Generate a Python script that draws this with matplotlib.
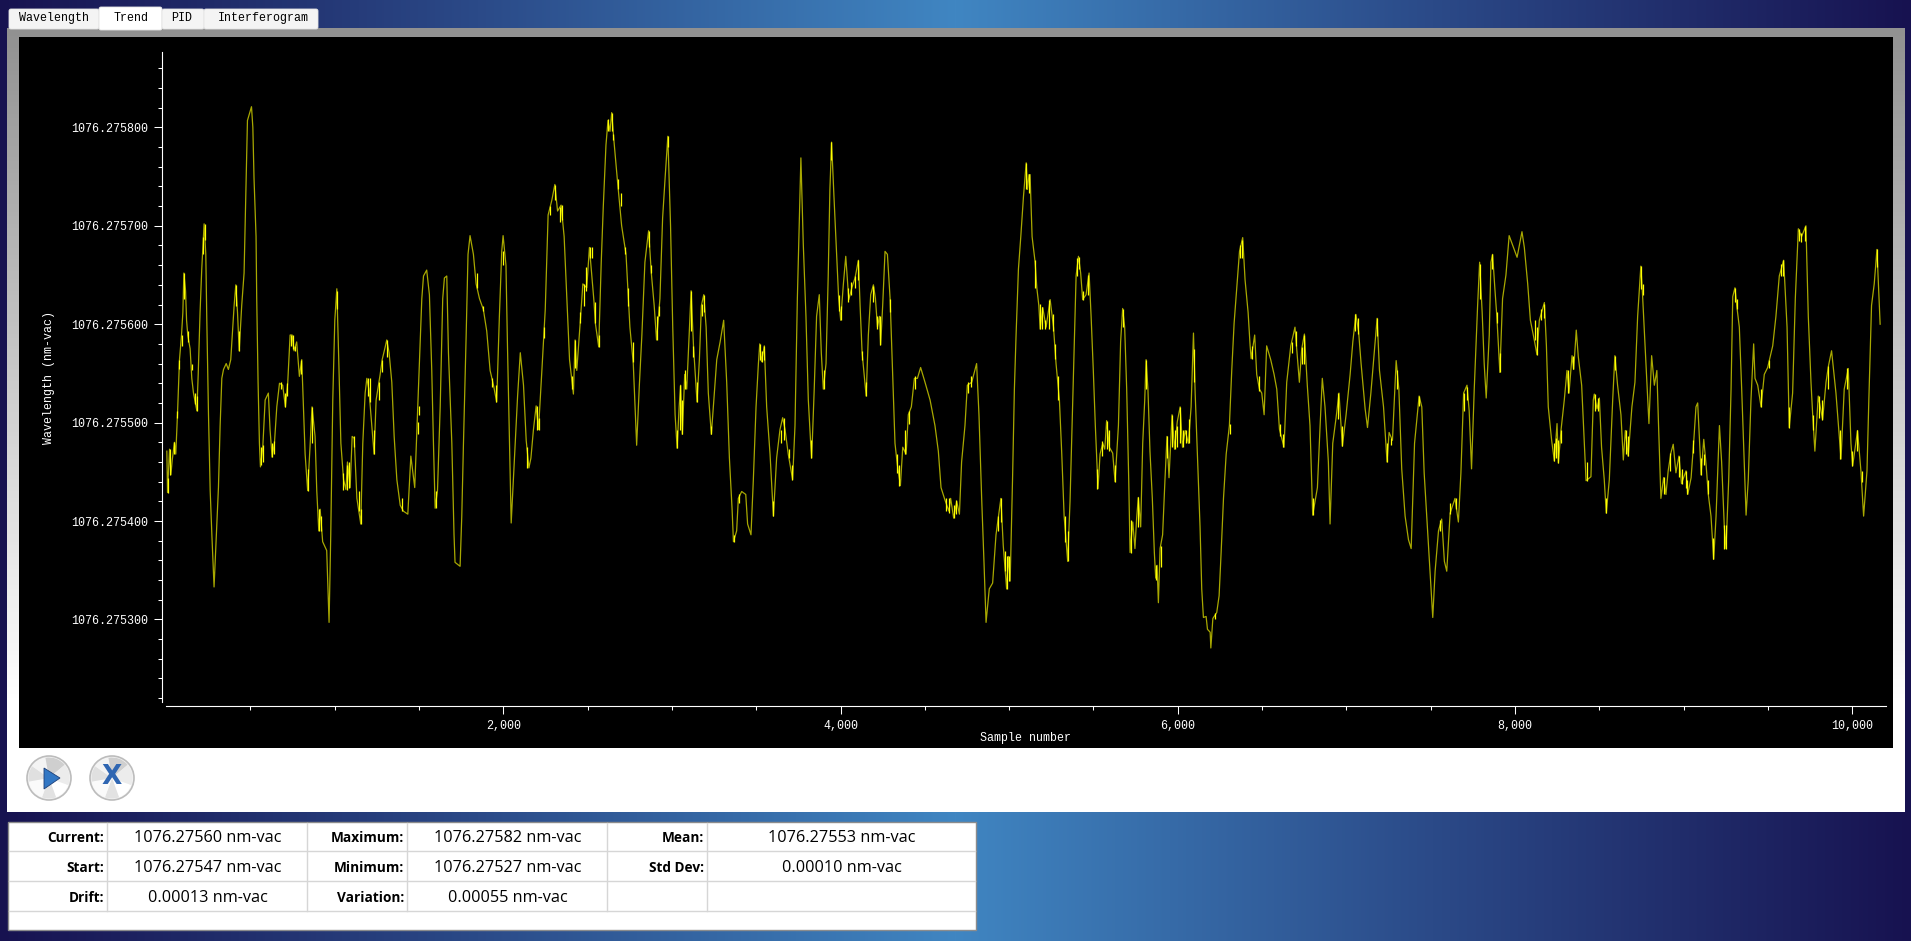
import numpy as np
import matplotlib
matplotlib.use('Agg')
import matplotlib.pyplot as plt
from matplotlib.patches import Circle, Polygon, Rectangle, Wedge, FancyBboxPatch

# samples and wavelength, wavelength as 1e-6 nm above 1076.275
sample_number = [
    5, 9, 21, 29, 37, 50, 58, 68, 80, 92,
    100, 106, 116, 122, 129, 143, 153, 163, 183, 191,
    202, 212, 226, 236, 242, 252, 262, 272, 285, 297,
    311, 321, 331, 341, 357, 370, 384, 396, 404, 414,
    424, 434, 449, 463, 475, 483, 507, 515, 522, 534,
    538, 546, 554, 560, 574, 588, 607, 617, 629, 643,
    657, 673, 692, 708, 722, 736, 748, 759, 775, 791,
    805, 815, 825, 840, 854, 866, 884, 894, 906, 914,
    929, 953, 967, 977, 989, 1001, 1013, 1025, 1037, 1053,
    1067, 1076, 1092, 1104, 1116, 1132, 1155, 1167, 1181, 1191,
    1203, 1215, 1234, 1246, 1270, 1282, 1300, 1309, 1323, 1339,
    1353, 1369, 1389, 1408, 1434, 1452, 1475, 1491, 1517, 1527,
    1546, 1562, 1576, 1586, 1596, 1610, 1626, 1641, 1651, 1665,
    1675, 1695, 1708, 1714, 1744, 1754, 1764, 1780, 1791, 1803,
    1823, 1839, 1859, 1882, 1902, 1922, 1942, 1961, 1977, 1991,
    1999, 2016, 2025, 2037, 2047, 2065, 2085, 2101, 2120, 2136,
    2152, 2164, 2179, 2195, 2209, 2229, 2249, 2266, 2288, 2306,
    2322, 2343, 2361, 2377, 2393, 2416, 2426, 2436, 2456, 2472,
    2495, 2511, 2538, 2546, 2566, 2581, 2593, 2609, 2621, 2633,
    2643, 2656, 2676, 2702, 2728, 2751, 2771, 2791, 2807, 2822,
    2840, 2850, 2862, 2878, 2895, 2909, 2929, 2945, 2961, 2976,
    2992, 3005, 3019, 3031, 3043, 3052, 3062, 3076, 3088, 3102,
    3114, 3128, 3149, 3163, 3175, 3189, 3203, 3216, 3234, 3246,
    3266, 3286, 3307, 3325, 3341, 3357, 3365, 3384, 3394, 3414,
    3438, 3449, 3469, 3483, 3499, 3513, 3521, 3532, 3548, 3562,
    3582, 3602, 3621, 3641, 3657, 3671, 3690, 3716, 3730, 3744,
    3756, 3765, 3779, 3795, 3809, 3823, 3829, 3844, 3858, 3874,
    3886, 3898, 3914, 3927, 3937, 3947, 3961, 3977, 3989, 4001,
    4017, 4031, 4049, 4067, 4086, 4106, 4116, 4128, 4152, 4165,
    4179, 4195, 4207, 4219, 4231, 4238, 4250, 4264, 4278, 4294,
    4310, 4323, 4337, 4355, 4369, 4389, 4402, 4420, 4438, 4456,
    4475, 4501, 4531, 4560, 4580, 4596, 4620, 4643, 4653, 4671,
    4689, 4705, 4718, 4738, 4752, 4778, 4807, 4821, 4837, 4851,
    4863, 4882, 4902, 4922, 4951, 4965, 4985, 4995, 5006, 5020,
    5031, 5041, 5055, 5069, 5085, 5101, 5108, 5118, 5124, 5136,
    5154, 5164, 5176, 5184, 5199, 5219, 5243, 5263, 5278, 5298,
    5312, 5326, 5347, 5361, 5373, 5385, 5397, 5411, 5424, 5436,
    5456, 5474, 5486, 5499, 5511, 5527, 5539, 5555, 5567, 5578,
    5594, 5614, 5628, 5648, 5661, 5673, 5685, 5697, 5709, 5717,
    5733, 5746, 5756, 5766, 5780, 5792, 5804, 5812, 5823, 5835,
    5849, 5861, 5869, 5877, 5885, 5895, 5910, 5924, 5936, 5948,
    5966, 5981, 5997, 6014, 6028, 6044, 6063, 6079, 6093, 6103,
    6117, 6132, 6142, 6152, 6168, 6176, 6192, 6196, 6208, 6231,
    6245, 6257, 6271, 6287, 6306, 6320, 6334, 6350, 6366, 6385,
    6399, 6417, 6429, 6435, 6456, 6468, 6484, 6498, 6512, 6527,
    6551, 6571, 6587, 6603, 6630, 6646, 6670, 6695, 6721, 6735,
    6751, 6768, 6784, 6800, 6828, 6844, 6857, 6873, 6893, 6903,
    6919, 6938, 6956, 6976, 6998, 7022, 7038, 7056, 7072, 7087,
    7111, 7125, 7145, 7165, 7182, 7196, 7220, 7241, 7253, 7273,
    7295, 7311, 7328, 7348, 7368, 7384, 7404, 7431, 7447, 7461,
    7480, 7496, 7512, 7526, 7546, 7565, 7581, 7595, 7615, 7644,
    7664, 7679, 7695, 7715, 7728, 7742, 7758, 7778, 7790, 7805,
    7817, 7829, 7847, 7857, 7867, 7880, 7892, 7910, 7926, 7946,
    7965, 8012, 8041, 8055, 8075, 8091, 8114, 8130, 8144, 8174,
    8186, 8197, 8217, 8233, 8249, 8257, 8273, 8292, 8308, 8320,
    8338, 8348, 8363, 8375, 8395, 8411, 8421, 8450, 8464, 8470,
    8486, 8500, 8513, 8529, 8541, 8559, 8579, 8592, 8608, 8628,
    8642, 8654, 8671, 8693, 8711, 8727, 8746, 8756, 8776, 8794,
    8810, 8826, 8841, 8851, 8865, 8881, 8895, 8908, 8924, 8938,
    8954, 8972, 8987, 9014, 9024, 9044, 9060, 9073, 9083, 9099,
    9103, 9119, 9133, 9146, 9162, 9178, 9192, 9212, 9225, 9241,
    9251, 9267, 9281, 9291, 9304, 9316, 9330, 9344, 9360, 9370,
    9383, 9399, 9415, 9423, 9439, 9459, 9478, 9498, 9528, 9547,
    9567, 9593, 9613, 9626, 9646, 9662, 9680, 9699, 9725, 9739,
    9755, 9765, 9778, 9798, 9824, 9844, 9859, 9877, 9903, 9933,
    9952, 9976, 9992, 10002, 10031, 10051, 10067, 10087, 10098, 10114,
    10130, 10146, 10165,
]
wavelength_offset = [
    471, 429, 473, 447, 462, 480, 468, 508, 564, 589,
    612, 652, 634, 604, 589, 575, 545, 530, 512, 549,
    612, 656, 702, 671, 604, 508, 431, 386, 333, 379,
    434, 497, 545, 554, 560, 554, 564, 597, 619, 640,
    612, 573, 619, 652, 748, 807, 821, 800, 748, 689,
    626, 541, 479, 455, 475, 523, 530, 493, 465, 479,
    516, 540, 538, 516, 541, 589, 589, 573, 582, 547,
    564, 516, 468, 431, 475, 516, 486, 431, 390, 412,
    379, 370, 297, 386, 523, 604, 636, 560, 479, 442,
    432, 460, 434, 486, 484, 423, 397, 479, 530, 545,
    534, 508, 468, 523, 549, 564, 577, 584, 571, 541,
    486, 442, 416, 410, 407, 466, 434, 508, 626, 649,
    655, 630, 553, 479, 413, 431, 516, 626, 647, 649,
    571, 479, 386, 358, 354, 405, 479, 589, 671, 690,
    671, 641, 626, 615, 593, 553, 538, 521, 608, 674,
    690, 660, 578, 479, 398, 460, 527, 571, 538, 482,
    454, 464, 493, 517, 493, 553, 615, 711, 726, 742,
    715, 721, 689, 626, 564, 529, 584, 553, 601, 641,
    637, 678, 623, 601, 577, 663, 719, 782, 807, 796,
    815, 787, 748, 700, 671, 597, 560, 477, 538, 589,
    663, 678, 695, 652, 619, 584, 626, 708, 752, 791,
    700, 597, 508, 474, 516, 538, 488, 549, 534, 589,
    634, 578, 521, 564, 619, 630, 597, 530, 488, 516,
    564, 582, 604, 541, 464, 412, 379, 390, 423, 430,
    427, 397, 386, 442, 516, 560, 580, 562, 578, 516,
    468, 405, 464, 493, 505, 493, 468, 442, 497, 626,
    708, 769, 682, 608, 523, 479, 464, 534, 608, 630,
    571, 534, 560, 649, 737, 785, 730, 671, 626, 604,
    641, 669, 625, 637, 647, 665, 619, 571, 527, 589,
    630, 640, 626, 597, 608, 579, 619, 674, 671, 626,
    545, 479, 457, 436, 475, 468, 508, 516, 545, 545,
    556, 541, 523, 497, 471, 434, 421, 410, 423, 403,
    420, 407, 460, 497, 538, 541, 560, 508, 423, 357,
    297, 331, 337, 386, 423, 375, 331, 364, 339, 442,
    534, 589, 656, 689, 730, 764, 737, 752, 752, 689,
    663, 637, 619, 595, 617, 597, 625, 597, 560, 523,
    468, 405, 359, 420, 497, 571, 649, 669, 652, 625,
    630, 652, 608, 553, 497, 433, 468, 479, 473, 502,
    475, 469, 440, 497, 582, 616, 597, 534, 442, 368,
    399, 372, 403, 424, 394, 479, 523, 564, 534, 471,
    423, 368, 342, 355, 317, 372, 386, 442, 486, 444,
    508, 473, 501, 516, 475, 492, 479, 516, 591, 530,
    464, 394, 331, 302, 303, 290, 287, 271, 301, 307,
    324, 368, 423, 468, 497, 553, 601, 637, 674, 688,
    645, 612, 578, 565, 589, 549, 534, 530, 508, 578,
    564, 549, 534, 493, 475, 541, 578, 597, 541, 575,
    590, 538, 497, 406, 434, 497, 545, 516, 460, 397,
    479, 504, 530, 476, 508, 549, 582, 610, 593, 560,
    514, 495, 530, 571, 606, 553, 516, 460, 490, 482,
    563, 534, 453, 405, 381, 372, 479, 527, 516, 449,
    394, 349, 302, 349, 390, 402, 359, 349, 408, 423,
    399, 449, 530, 538, 512, 453, 534, 619, 663, 612,
    560, 525, 589, 663, 671, 637, 608, 551, 626, 650,
    690, 668, 694, 678, 641, 604, 584, 569, 604, 622,
    578, 516, 482, 461, 499, 459, 493, 523, 553, 530,
    568, 554, 594, 567, 538, 479, 441, 445, 523, 529,
    514, 525, 475, 442, 408, 442, 523, 568, 538, 508,
    462, 492, 466, 516, 541, 608, 659, 630, 560, 499,
    568, 538, 553, 497, 423, 444, 427, 451, 469, 478,
    449, 466, 438, 451, 427, 444, 482, 516, 520, 464,
    447, 483, 457, 427, 405, 361, 405, 497, 460, 394,
    372, 442, 534, 628, 637, 617, 597, 534, 457, 406,
    442, 523, 580, 545, 538, 516, 549, 556, 578, 608,
    649, 665, 597, 495, 530, 626, 697, 689, 700, 608,
    541, 508, 471, 527, 503, 541, 558, 573, 530, 463,
    534, 555, 479, 456, 492, 451, 405, 451, 523, 619,
    641, 676, 600,
]
# noisy stretches where the trace piles up into bright yellow
burst_sample = [
    9, 25, 50, 68, 80, 92, 106, 131, 153, 170, 181, 221, 229, 417, 434, 564, 574, 629, 639, 684,
    708, 720, 739, 751, 763, 798, 840, 866, 909, 919, 1012, 1052, 1072, 1088, 1112, 1143, 1155, 1197, 1212, 1234,
    1263, 1283, 1309, 1402, 1492, 1503, 1603, 1845, 1877, 1932, 1957, 2000, 2143, 2198, 2212, 2242, 2278, 2308, 2334, 2348,
    2407, 2427, 2456, 2476, 2492, 2514, 2526, 2546, 2566, 2623, 2643, 2653, 2682, 2696, 2724, 2741, 2767, 2862, 2876, 2913,
    2925, 2976, 3028, 3051, 3061, 3079, 3113, 3128, 3148, 3178, 3190, 3233, 3367, 3395, 3521, 3533, 3547, 3600, 3646, 3664,
    3695, 3715, 3826, 3901, 3946, 3992, 4002, 4047, 4065, 4084, 4104, 4130, 4150, 4193, 4219, 4233, 4296, 4335, 4347, 4383,
    4406, 4440, 4628, 4643, 4671, 4687, 4756, 4776, 4934, 4953, 4973, 4987, 4999, 5099, 5120, 5156, 5180, 5195, 5213, 5239,
    5259, 5274, 5292, 5332, 5347, 5401, 5417, 5440, 5470, 5523, 5549, 5578, 5594, 5628, 5673, 5721, 5766, 5812, 5869, 5899,
    5938, 5966, 5983, 5997, 6013, 6033, 6047, 6066, 6094, 6220, 6309, 6368, 6382, 6438, 6479, 6605, 6625, 6675, 6700, 6734,
    6748, 6803, 6951, 6975, 7050, 7066, 7180, 7241, 7267, 7297, 7429, 7557, 7616, 7648, 7696, 7715, 7790, 7865, 7892, 7912,
    8117, 8129, 8153, 8169, 8232, 8242, 8256, 8272, 8315, 8341, 8425, 8473, 8493, 8542, 8592, 8657, 8672, 8746, 8757, 8884,
    8919, 8973, 8992, 9012, 9022, 9058, 9101, 9121, 9144, 9176, 9239, 9249, 9303, 9318, 9457, 9506, 9579, 9591, 9626, 9684,
    9697, 9719, 9768, 9802, 9822, 9855, 9927, 9966, 10000, 10029, 10059, 10144,
]
burst_high = [
    444, 473, 480, 512, 564, 589, 652, 593, 560, 530, 527, 689, 702, 640, 593, 475, 477, 479, 481, 541,
    530, 540, 589, 589, 578, 564, 453, 516, 412, 405, 634, 449, 457, 460, 486, 431, 412, 545, 545, 493,
    541, 564, 584, 423, 501, 517, 431, 652, 619, 545, 538, 674, 475, 517, 505, 597, 720, 741, 719, 721,
    547, 584, 612, 641, 658, 678, 678, 623, 589, 809, 815, 793, 748, 733, 678, 637, 582, 695, 660, 608,
    619, 791, 492, 538, 523, 553, 634, 578, 541, 621, 630, 497, 386, 427, 580, 573, 578, 420, 493, 505,
    473, 457, 482, 553, 785, 630, 619, 637, 643, 649, 665, 573, 541, 639, 608, 608, 626, 468, 457, 492,
    512, 547, 423, 423, 416, 421, 541, 547, 405, 423, 370, 364, 364, 764, 753, 665, 621, 617, 604, 625,
    610, 580, 547, 405, 390, 667, 668, 634, 650, 453, 481, 502, 493, 457, 615, 401, 424, 564, 355, 375,
    486, 508, 493, 497, 516, 492, 492, 504, 575, 307, 499, 680, 686, 578, 547, 499, 488, 582, 593, 577,
    589, 423, 530, 497, 610, 606, 606, 479, 484, 553, 527, 401, 418, 423, 530, 536, 661, 671, 612, 571,
    604, 597, 615, 621, 479, 484, 482, 493, 553, 568, 460, 529, 525, 423, 568, 493, 486, 659, 641, 445,
    469, 466, 453, 451, 442, 482, 464, 468, 442, 383, 396, 396, 637, 626, 534, 564, 661, 665, 516, 697,
    693, 700, 508, 527, 523, 558, 493, 556, 471, 492, 451, 676,
]
burst_low = [
    428, 447, 468, 505, 554, 578, 626, 582, 553, 519, 512, 671, 686, 619, 573, 457, 460, 465, 468, 534,
    516, 527, 578, 575, 573, 549, 431, 479, 390, 390, 615, 432, 432, 434, 475, 410, 397, 527, 521, 468,
    523, 551, 567, 410, 488, 508, 413, 637, 613, 536, 521, 660, 454, 493, 493, 586, 711, 726, 704, 706,
    534, 556, 601, 619, 634, 667, 667, 601, 577, 796, 796, 787, 737, 720, 671, 619, 562, 678, 652, 584,
    608, 780, 474, 493, 488, 534, 593, 567, 521, 608, 612, 488, 379, 418, 564, 562, 564, 405, 479, 482,
    464, 442, 464, 534, 767, 613, 604, 623, 630, 637, 645, 564, 527, 623, 595, 579, 612, 449, 436, 468,
    499, 534, 410, 408, 403, 407, 530, 536, 390, 399, 349, 331, 339, 737, 733, 637, 595, 595, 595, 595,
    593, 565, 523, 379, 359, 649, 656, 625, 630, 433, 466, 473, 471, 440, 597, 368, 394, 534, 340, 353,
    464, 475, 473, 475, 479, 475, 479, 479, 541, 300, 488, 667, 667, 565, 532, 486, 475, 571, 578, 560,
    560, 406, 504, 476, 593, 590, 588, 460, 477, 534, 517, 390, 407, 412, 512, 523, 626, 656, 601, 551,
    584, 569, 604, 606, 461, 464, 459, 479, 530, 554, 441, 512, 512, 408, 553, 468, 466, 636, 630, 427,
    451, 445, 438, 434, 427, 469, 447, 457, 427, 361, 372, 372, 623, 615, 516, 556, 649, 649, 495, 685,
    684, 685, 493, 505, 503, 534, 463, 534, 456, 471, 440, 658,
]
wavelength_base = 1076.275
major_x_ticks = [2000, 4000, 6000, 8000, 10000]
x_tick_labels = ['2,000', '4,000', '6,000', '8,000', '10,000']
major_y_ticks = [300, 400, 500, 600, 700, 800]
y_tick_labels = ['1076.275300', '1076.275400', '1076.275500', '1076.275600', '1076.275700', '1076.275800']
tab_names = ['Wavelength', 'Trend', 'PID', 'Interferogram']
stat_labels = [['Current:', 'Maximum:', 'Mean:'], ['Start:', 'Minimum:', 'Std Dev:'], ['Drift:', 'Variation:', '']]
stat_values = [['1076.27560 nm-vac', '1076.27582 nm-vac', '1076.27553 nm-vac'],
               ['1076.27547 nm-vac', '1076.27527 nm-vac', '0.00010 nm-vac'],
               ['0.00013 nm-vac', '0.00055 nm-vac', '']]

W, H = 1911, 941
MONO = 'Liberation Mono'
UI = 'Open Sans'
plt.rcParams['font.family'] = [MONO, 'DejaVu Sans']
plt.rcParams['font.size'] = 8.4
fig = plt.figure(figsize=(W / 100, H / 100), dpi=100)

# window chrome, drawn in pixel coordinates
bg = fig.add_axes([0, 0, 1, 1])
bg.axis('off')

stops_x = [0, 0.25, 0.5, 0.75, 1]
stops_r = [0x17, 0x2b, 0x40, 0x2b, 0x17]
stops_g = [0x12, 0x4a, 0x86, 0x4a, 0x12]
stops_b = [0x50, 0x88, 0xc2, 0x88, 0x50]
t = np.linspace(0, 1, W)
grad = np.dstack([np.interp(t, stops_x, stops_r), np.interp(t, stops_x, stops_g), np.interp(t, stops_x, stops_b)]) / 255
bg.imshow(grad, extent=[0, W, H, 0], aspect='auto', zorder=0)

# grey to white panel
v = np.interp(np.linspace(28, 812, 200), [28, 700, 812], [0.57, 1, 1])[:, None]
bg.imshow(np.dstack([v, v, v]), extent=[7, 1905, 812, 28], aspect='auto', zorder=1)
bg.set_xlim(0, W)
bg.set_ylim(H, 0)
bg.add_patch(Rectangle((19, 37), 1874, 711, fc='black', ec='none', zorder=2))

# tabs
tab_left = [9, 99, 162, 204]
tab_right = [99, 162, 204, 318]
tab_top = [9, 7, 9, 9]
tab_bottom = [27, 28, 27, 27]
tab_text_x = [54, 131, 182, 263]
for i, name in enumerate(tab_names):
    face = 'white' if name == 'Trend' else '#f4f4f4'
    bg.add_patch(FancyBboxPatch((tab_left[i] + 1, tab_top[i] + 1), tab_right[i] - tab_left[i] - 2, tab_bottom[i] - tab_top[i],
                                boxstyle='round,pad=1,rounding_size=2', fc=face, ec='#e4e4e4', lw=0.6, zorder=3))
    bg.text(tab_text_x[i], (tab_top[i] + tab_bottom[i]) / 2, name, color='black', ha='center', va='center', zorder=4)

# play and stop buttons
for cx in [49, 112]:
    bg.add_patch(Circle((cx, 778), 22, fc='#f4f4f4', ec='#bcbcbc', lw=1.2, zorder=3))
    for a, b, c in [(20, 70, '#ffffff'), (70, 110, '#e2e2e2'), (110, 170, '#fafafa'), (170, 215, '#e0e0e0'),
                    (215, 260, '#f4f4f4'), (260, 320, '#cfcfcf'), (320, 380, '#ececec')]:
        bg.add_patch(Wedge((cx, 778), 20.5, a, b, fc=c, ec='none', zorder=3))
bg.add_patch(Polygon([(44, 768), (44, 789), (60, 778)], closed=True, fc='#3277c4', ec='#1d3f78', lw=0.6, zorder=4))
bg.text(112, 777.5, 'X', family='DejaVu Sans', fontweight='bold', fontsize=19, color='#2f66b2', ha='center', va='center', zorder=4)

# statistics table
bg.add_patch(Rectangle((8, 822), 968, 108, fc='white', ec='#8c8c8c', lw=1, zorder=2))
for y in [851, 881, 911]:
    bg.plot([9, 975], [y, y], color='#d6d6d6', lw=1, zorder=3)
for x in [107, 307, 407, 607, 707]:
    bg.plot([x, x], [823, 911], color='#d6d6d6', lw=1, zorder=3)
label_right = [104, 404, 704]
value_center = [207.5, 507.5, 841.5]
row_center = [838, 868, 898]
for r in range(3):
    for c in range(3):
        bg.text(label_right[c], row_center[r] - 0.5, stat_labels[r][c], family=UI, fontweight='bold', fontsize=9.8,
                color='black', ha='right', va='center', zorder=4)
        bg.text(value_center[c], row_center[r], stat_values[r][c], family=UI, fontsize=11.7,
                color='black', ha='center', va='center', zorder=4)

# trend plot
px_left, px_right, px_top, px_bottom = 166, 1885.7, 52, 702
ax = fig.add_axes([px_left / W, 1 - px_bottom / H, (px_right - px_left) / W, (px_bottom - px_top) / H])
ax.patch.set_alpha(0)
wavelength = wavelength_base + np.array(wavelength_offset) * 1e-6
ax.plot(sample_number, wavelength, color='#a8a800', lw=0.9)
ax.vlines(burst_sample, wavelength_base + np.array(burst_low) * 1e-6, wavelength_base + np.array(burst_high) * 1e-6,
          color='#ffff00', lw=0.9)
ax.set_xlim(0, 10198)
ax.set_ylim(wavelength_base + 216.1e-6, wavelength_base + 876.6e-6)

ax.set_xticks(major_x_ticks)
ax.set_xticklabels(x_tick_labels)
ax.set_xticks(np.arange(500, 10001, 500), minor=True)
ax.set_yticks([wavelength_base + m * 1e-6 for m in major_y_ticks])
ax.set_yticklabels(y_tick_labels)
ax.set_yticks([wavelength_base + m * 1e-6 for m in np.arange(220, 880, 20)], minor=True)
ax.tick_params(axis='both', which='major', colors='white', length=5.8, width=0.75, pad=4)
ax.tick_params(axis='both', which='minor', colors='white', length=2.8, width=0.75)
# the odd thousands carry a mid-length tick in the original
for tick in ax.xaxis.get_minor_ticks():
    if tick.get_loc() % 1000 == 0:
        tick.tick1line.set_markersize(3.8)

for side in ['top', 'right']:
    ax.spines[side].set_visible(False)
ax.spines['left'].set_position(('outward', 2.7))
ax.spines['bottom'].set_position(('outward', 2.9))
ax.spines['left'].set_color('white')
ax.spines['bottom'].set_color('white')
ax.spines['left'].set_linewidth(0.8)
ax.spines['bottom'].set_linewidth(0.8)

bg.text(49, 378, 'Wavelength (nm-vac)', color='white', rotation=90, ha='center', va='center', zorder=4)
bg.text(1025, 738, 'Sample number', color='white', ha='center', va='center', zorder=4)

fig.savefig('out.png', dpi=100)
